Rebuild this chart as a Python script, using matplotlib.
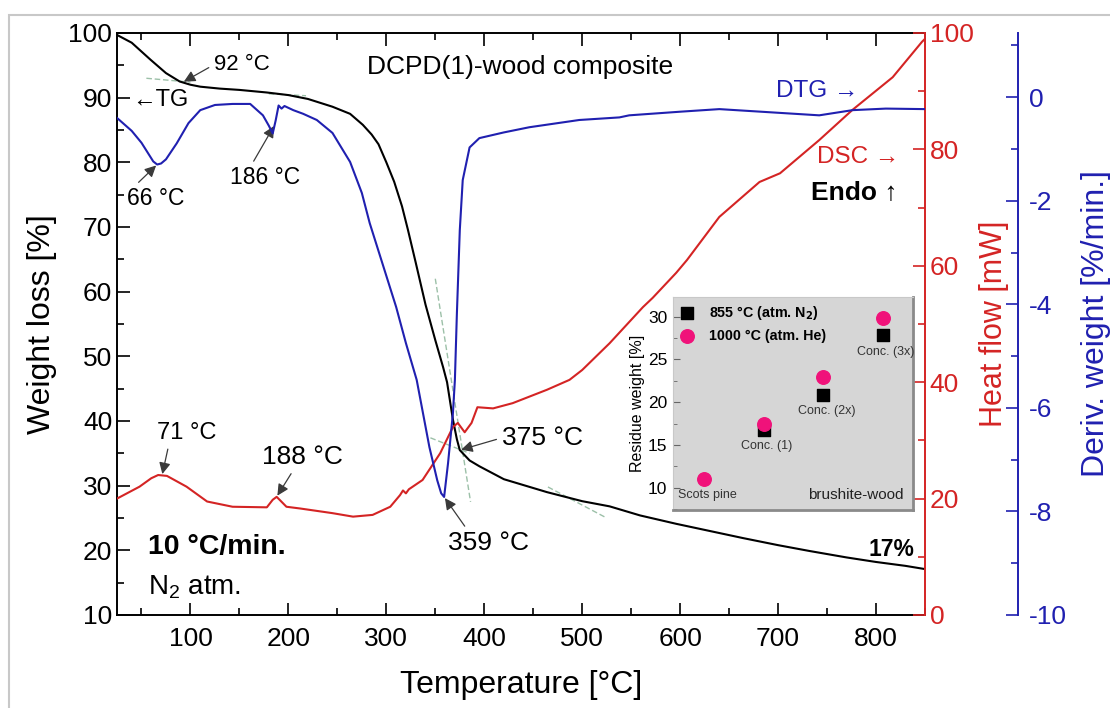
import numpy as np
import matplotlib
matplotlib.use("Agg")
import matplotlib.pyplot as plt
from matplotlib.patches import Rectangle
from matplotlib.ticker import MultipleLocator

plt.rcParams['font.family'] = ['Liberation Sans', 'DejaVu Sans']
plt.rcParams['mathtext.fontset'] = 'custom'
plt.rcParams['mathtext.rm'] = 'Liberation Sans'
plt.rcParams['axes.unicode_minus'] = False

# TG (weight loss, %)
tg_temp = [25, 40, 59, 75, 89, 100, 110, 130, 150, 178, 200, 220, 245, 263, 276, 285, 292,
           300, 308, 316, 322, 330, 340, 350, 358, 362, 368, 372, 375, 385, 395, 420, 464,
           500, 528, 559, 596, 630, 664, 700, 732, 770, 800, 830, 850]
tg_val = [99.7, 98.5, 95.9, 93.8, 92.5, 92.0, 91.7, 91.4, 91.2, 90.8, 90.4, 89.8, 88.6, 87.5,
          85.8, 84.3, 82.8, 80.0, 77.0, 73.2, 69.6, 64.5, 58.0, 52.5, 48.3, 46.0, 40.2, 37.2,
          35.5, 33.9, 33.0, 31.0, 29.0, 27.6, 26.8, 25.4, 24.1, 23.0, 21.9, 20.8, 19.9, 18.9,
          18.2, 17.6, 17.1]

# DTG (deriv. weight, %/min)
dtg_temp = [25, 40, 50, 58, 62, 66, 70, 75, 86, 98, 110, 125, 143, 161, 174, 180, 184, 187,
            190, 193, 196, 205, 215, 229, 245, 263, 275, 283, 290, 300, 310, 320, 331, 344,
            352, 356, 359, 363, 368, 370, 372, 375, 378, 385, 395, 420, 446, 497, 538, 548,
            600, 640, 691, 742, 776, 810, 850]
dtg_val = [-0.40, -0.65, -0.88, -1.12, -1.24, -1.30, -1.28, -1.20, -0.89, -0.50, -0.25, -0.15,
           -0.13, -0.13, -0.35, -0.55, -0.70, -0.45, -0.16, -0.22, -0.17, -0.25, -0.32, -0.44,
           -0.69, -1.25, -1.85, -2.43, -2.85, -3.45, -4.05, -4.75, -5.46, -6.76, -7.40, -7.65,
           -7.72, -7.07, -6.10, -5.46, -4.20, -2.57, -1.60, -0.97, -0.79, -0.68, -0.58, -0.44,
           -0.39, -0.35, -0.28, -0.23, -0.29, -0.35, -0.25, -0.22, -0.23]

# DSC (heat flow, mW)
dsc_temp = [25, 48, 60, 67, 76, 96, 117, 143, 178, 184, 188, 191, 198, 212, 245, 266, 286,
            304, 314, 317, 320, 323, 337, 355, 368, 373, 380, 387, 393, 409, 429, 464, 487,
            500, 528, 562, 572, 596, 607, 640, 681, 702, 742, 776, 817, 847, 850]
dsc_val = [20.0, 22.05, 23.5, 24.05, 23.9, 22.05, 19.5, 18.6, 18.5, 19.8, 20.3, 19.8, 18.6,
           18.3, 17.5, 16.9, 17.2, 18.6, 20.6, 21.4, 20.9, 21.6, 23.2, 27.8, 32.3, 33.0, 31.4,
           33.0, 35.7, 35.5, 36.4, 38.7, 40.4, 42.1, 46.7, 52.9, 54.5, 58.8, 61.0, 68.4, 74.4,
           75.9, 81.6, 86.8, 92.4, 98.5, 99.0]

# inset: residue weight
inset_names = ["Scots pine", "Conc. (1)", "Conc. (2x)", "Conc. (3x)"]
res_n2 = [np.nan, 16.8, 20.9, 27.8]
res_he = [11.0, 17.4, 22.9, 29.8]

RED = '#d42424'
BLUE = '#2020b0'
PINK = '#f0127a'

fig = plt.figure(figsize=(11.1, 7.08), dpi=100)
W, H = 1110, 708
fig.patches.append(Rectangle((9 / W, -0.02), 1.0, 1 - 15 / H + 0.02, transform=fig.transFigure,
                             fill=False, edgecolor='#c8c8c8', lw=1.5))

ax = fig.add_axes([117 / W, (H - 615) / H, (925 - 117) / W, (615 - 33) / H])
ax2 = ax.twinx()
ax3 = ax.twinx()
ax3.spines['right'].set_position(('axes', (1018 - 117) / (925 - 117)))

ax.plot(tg_temp, tg_val, color='black', lw=1.5, zorder=3)
ax2.plot(dsc_temp, dsc_val, color=RED, lw=1.5)
ax3.plot(dtg_temp, dtg_val, color=BLUE, lw=1.5)

# tangent construction lines
tan_kw = dict(color='#9cc0a8', lw=1.0, ls=(0, (4, 2)), zorder=2)
ax.plot([55, 100], [93.0, 92.4], **tan_kw)
ax.plot([180, 218], [90.6, 90.3], **tan_kw)
ax.plot([350, 386], [62.0, 27.5], **tan_kw)
ax.plot([345, 385], [37.4, 35.0], **tan_kw)
ax.plot([465, 525], [29.8, 25.0], **tan_kw)

ax.set_xlim(25, 850)
ax.set_ylim(10, 100)
ax2.set_ylim(0, 100)
ax3.set_ylim(-10, 1.24)

ax.xaxis.set_major_locator(MultipleLocator(100))
ax.xaxis.set_minor_locator(MultipleLocator(50))
ax.yaxis.set_major_locator(MultipleLocator(10))
ax.yaxis.set_minor_locator(MultipleLocator(5))
ax2.yaxis.set_major_locator(MultipleLocator(20))
ax2.yaxis.set_minor_locator(MultipleLocator(10))
ax3.yaxis.set_major_locator(MultipleLocator(2))
ax3.yaxis.set_minor_locator(MultipleLocator(1))

TL = 19
ax.tick_params(which='both', direction='in', top=True, labelsize=TL, width=1.2)
ax.tick_params(which='major', length=9)
ax.tick_params(which='minor', length=5)
ax.tick_params(axis='x', pad=9)
ax2.tick_params(which='both', direction='in', colors=RED, labelsize=TL, width=1.2)
ax2.tick_params(which='major', length=9)
ax2.tick_params(which='minor', length=5)
ax3.tick_params(which='both', direction='in', colors=BLUE, labelsize=TL, width=1.2, pad=8)
ax3.tick_params(which='major', length=9)
ax3.tick_params(which='minor', length=5)

for s in ['left', 'top', 'bottom']:
    ax.spines[s].set_linewidth(1.4)
ax2.spines['right'].set_color(RED)
ax2.spines['right'].set_linewidth(1.4)
ax.spines['right'].set_visible(False)
ax3.spines['right'].set_color(BLUE)
ax3.spines['right'].set_linewidth(1.4)
for a in (ax2, ax3):
    for s in ['left', 'top', 'bottom']:
        a.spines[s].set_visible(False)

ax.set_xlabel("Temperature [°C]", fontsize=23, labelpad=13)
ax.set_ylabel("Weight loss [%]", fontsize=23, labelpad=8)
ax2.set_ylabel("Heat flow [mW]", fontsize=22, color=RED, labelpad=4)
ax3.set_ylabel("Deriv. weight [%/min.]", fontsize=23, color=BLUE, labelpad=10)

# annotations
fs = 16


def note(text, xt, yt, temp, curve_t, curve_v, axis, rel, size=fs):
    tip = (temp, float(np.interp(temp, curve_t, curve_v)))
    arw = dict(arrowstyle='-|>', color='#3a3a3a', lw=0.9, mutation_scale=17,
               shrinkA=2, shrinkB=1, relpos=rel)
    ax.annotate(text, xy=tip, xycoords=axis.transData, xytext=(xt, yt), textcoords=ax.transData,
                fontsize=size, ha='left', va='center', arrowprops=arw, zorder=5)


note("92 °C", 124, 95.1, 92, tg_temp, tg_val, ax, (0.0, 0.5))
note("66 °C", 35, 74.4, 66, dtg_temp, dtg_val, ax3, (0.12, 1.0), 16.5)
note("186 °C", 140, 77.6, 186, dtg_temp, dtg_val, ax3, (0.3, 1.0), 16.5)
note("71 °C", 66, 38.2, 71, dsc_temp, dsc_val, ax2, (0.2, 0.0), 17)
note("188 °C", 173, 34.5, 188, dsc_temp, dsc_val, ax2, (0.4, 0.0), 19)
note("375 °C", 418, 37.4, 375, tg_temp, tg_val, ax, (0.0, 0.5), 19)
note("359 °C", 363, 21.1, 359, dtg_temp, dtg_val, ax3, (0.25, 1.0), 19)

ax.text(40, 89.7, "←TG", fontsize=17, va='center')
ax.text(280, 94.7, "DCPD(1)-wood composite", fontsize=19, va='center')
ax.text(698, 91.0, "DTG →", fontsize=17.5, color=BLUE, va='center')
ax.text(740, 80.9, "DSC →", fontsize=17.5, color=RED, va='center')
ax.text(734, 75.3, "Endo ↑", fontsize=19, fontweight='bold', va='center')
ax.text(839, 20.1, "17%", fontsize=16.5, fontweight='bold', ha='right', va='center')
ax.text(57, 20.5, "10 °C/min.", fontsize=20.5, fontweight='bold', va='center')
ax.text(57, 14.3, "N$_2$ atm.", fontsize=20, va='center')

# inset
ai = fig.add_axes([673 / W, (H - 510) / H, 240 / W, 213 / H])
ai.set_facecolor('#d6d6d6')
xpos = np.arange(len(inset_names))
ai.scatter(xpos, res_n2, marker='s', s=75, color='black', zorder=3, label="855 °C (atm. N$_\\mathbf{2}$)")
ai.scatter(xpos, res_he, marker='o', s=95, color=PINK, zorder=4, label="1000 °C (atm. He)")
ai.set_xlim(-0.52, 3.5)
ai.set_ylim(7.4, 32.3)
ai.set_xticks([])
ai.yaxis.set_major_locator(MultipleLocator(5))
ai.yaxis.set_minor_locator(MultipleLocator(2.5))
ai.tick_params(which='both', direction='in', labelsize=12.5, color='#666666', pad=4)
ai.tick_params(which='major', length=5)
ai.tick_params(which='minor', length=3)
ai.set_ylabel("Residue weight [%]", fontsize=11.5, labelpad=2)
for s in ['left', 'top']:
    ai.spines[s].set_color('#c8c8c8')
for s in ['right', 'bottom']:
    ai.spines[s].set_color('#8a8a8a')
    ai.spines[s].set_linewidth(2)
for i, name in enumerate(inset_names):
    base = np.nanmin([res_n2[i], res_he[i]])
    ai.text(xpos[i] + 0.05, base - 1.9, name, fontsize=9, ha='center', va='center', color='#333333')
ai.text(3.35, 9.2, "brushite-wood", fontsize=11, ha='right', va='center', color='#222222')
leg = ai.legend(loc='upper left', frameon=False, prop={'weight': 'bold', 'size': 10.3},
                handletextpad=1.0, borderaxespad=0.3, borderpad=0.2, labelspacing=0.45,
                handlelength=1.0)

fig.savefig("out.png", dpi=100)
